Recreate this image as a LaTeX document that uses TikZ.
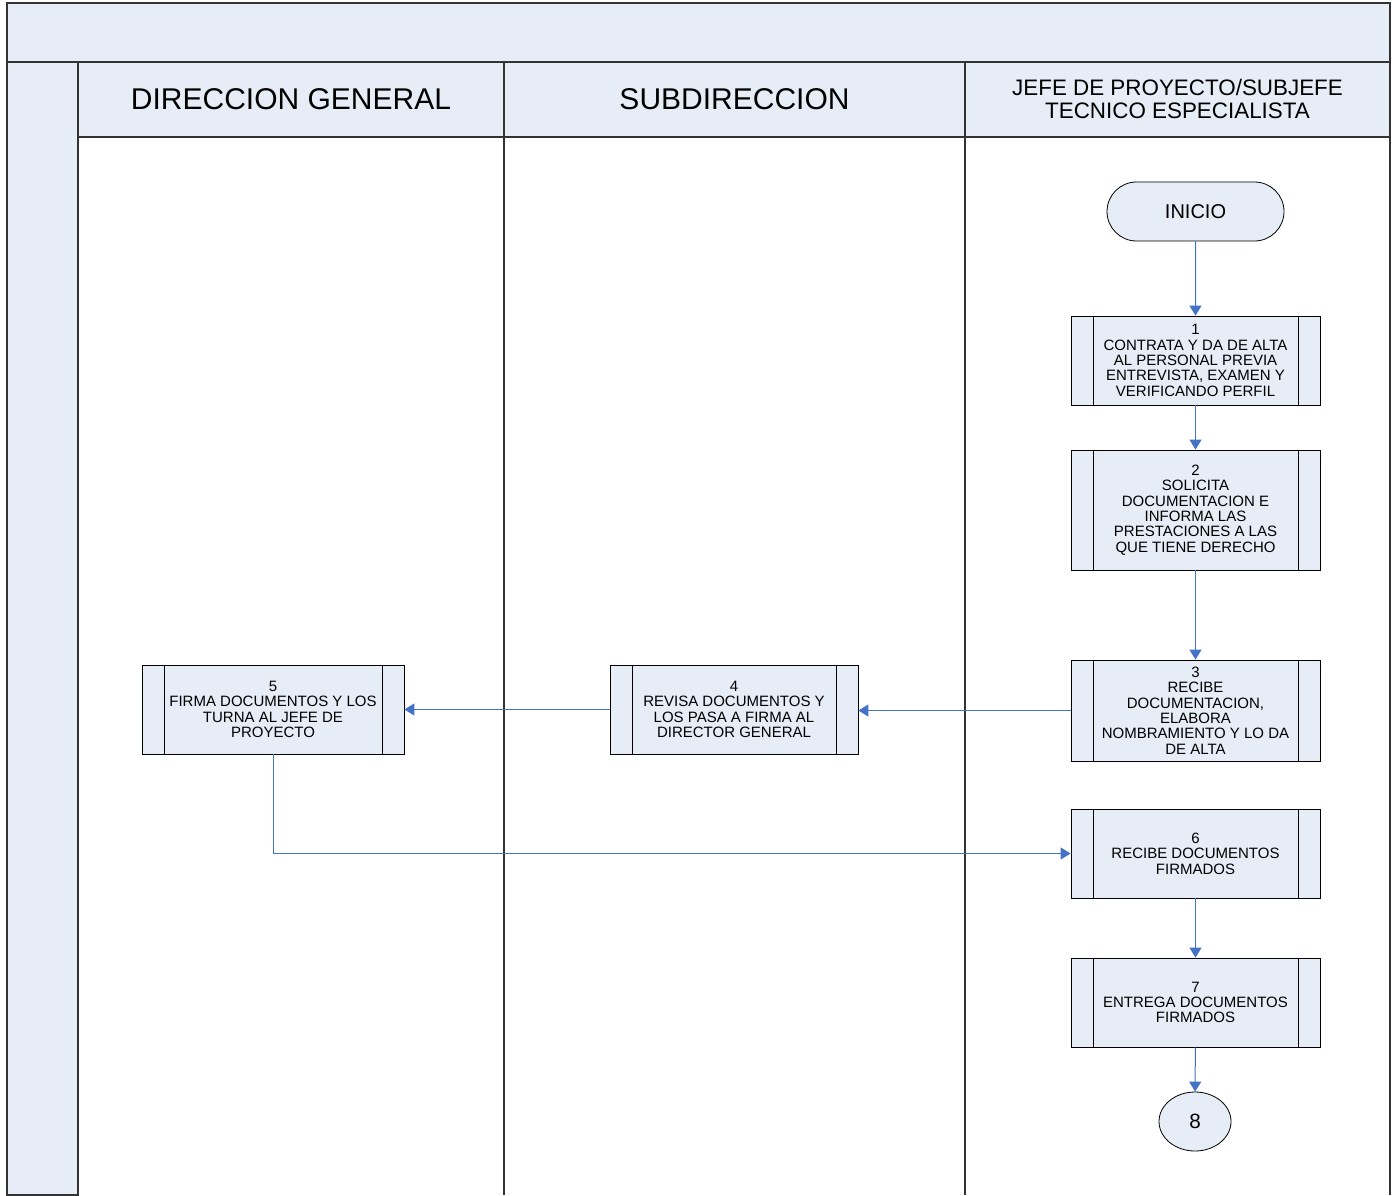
\documentclass[tikz,border=0pt]{standalone}
\usepackage{fontspec}
\setmainfont{Liberation Sans}
\usetikzlibrary{arrows.meta,shapes.misc,shapes.geometric}
\definecolor{lanefill}{RGB}{230,237,247}
\definecolor{laneline}{RGB}{51,51,51}
\definecolor{flowblue}{RGB}{68,114,196}
\tikzset{
  lanebox/.style={draw=laneline,line width=1.5pt,fill=lanefill},
  laneedge/.style={draw=laneline,line width=1.5pt},
  lanetitle/.style={font=\fontsize{22.5}{24}\selectfont,align=center,inner sep=0pt},
  procbox/.style={draw=black,line width=0.6pt,fill=lanefill,rectangle,inner sep=0pt,
    minimum width=186.75pt,minimum height=66.75pt,align=center,
    font=\fontsize{11.25}{11.5}\selectfont,
    path picture={
      \draw[line width=0.6pt] ([xshift=16.5pt]path picture bounding box.north west) -- ([xshift=16.5pt]path picture bounding box.south west);
      \draw[line width=0.6pt] ([xshift=-16.5pt]path picture bounding box.north east) -- ([xshift=-16.5pt]path picture bounding box.south east);
    }},
  terminal/.style={draw=black,line width=0.6pt,fill=lanefill,rounded rectangle,inner sep=0pt,
    minimum width=132.75pt,minimum height=44.25pt,font=\fontsize{15}{17}\selectfont},
  connector/.style={draw=black,line width=0.6pt,fill=lanefill,ellipse,inner sep=0pt,
    minimum width=54pt,minimum height=44.25pt,font=\fontsize{15.5}{17}\selectfont},
  flow/.style={draw=flowblue,line width=0.75pt,-{Triangle[length=7.5pt,width=9pt]}}
}
\begin{document}
\begin{tikzpicture}[x=0.75pt,y=-0.75pt]
\useasboundingbox (0,0) rectangle (1394,1195);
% title band and left margin column
\path[lanebox] (7,3) rectangle (1390,62);
\path[lanebox] (7,62) rectangle (78,1195);
% lane headers
\path[lanebox] (78,62) rectangle (504,137);
\path[lanebox] (504,62) rectangle (965,137);
\path[lanebox] (965,62) rectangle (1390,137);
% lane dividers
\draw[laneedge] (78,137) -- (78,1195);
\draw[laneedge] (504,137) -- (504,1195);
\draw[laneedge] (965,137) -- (965,1195);
\draw[laneedge] (1390,137) -- (1390,1195);
\node[lanetitle] (h1) at (291,99) {DIRECCION GENERAL};
\node[lanetitle] (h2) at (734.5,99) {SUBDIRECCION};
\node[lanetitle,font=\fontsize{16.8}{17.25}\selectfont] (h3) at (1177.5,99) {JEFE DE PROYECTO/SUBJEFE\\TECNICO ESPECIALISTA};
% flow nodes
\node[terminal] (ini) at (1195.5,211.5) {INICIO};
\node[procbox] (p1) at (1195.5,360.5) {1\\CONTRATA Y DA DE ALTA\\AL PERSONAL PREVIA\\ENTREVISTA, EXAMEN Y\\VERIFICANDO PERFIL};
\node[procbox,minimum height=90pt] (p2) at (1195.5,510) {2\\SOLICITA\\DOCUMENTACION E\\INFORMA LAS\\PRESTACIONES A LAS\\QUE TIENE DERECHO};
\node[procbox,minimum height=75.75pt] (p3) at (1195.5,710.5) {3\\RECIBE\\DOCUMENTACION,\\ELABORA\\NOMBRAMIENTO Y LO DA\\DE ALTA};
\node[procbox,minimum width=186pt] (p4) at (734,709.5) {4\\REVISA DOCUMENTOS Y\\LOS PASA A FIRMA AL\\DIRECTOR GENERAL};
\node[procbox,minimum width=196.5pt] (p5) at (273,709.5) {5\\FIRMA DOCUMENTOS Y LOS\\TURNA AL JEFE DE\\PROYECTO};
\node[procbox] (p6) at (1195.5,853.5) {6\\RECIBE DOCUMENTOS\\FIRMADOS};
\node[procbox] (p7) at (1195.5,1002.5) {7\\ENTREGA DOCUMENTOS\\FIRMADOS};
\node[connector] (fin) at (1195,1121.5) {8};
% connectors
\draw[flow] (ini) -- (p1);
\draw[flow] (p1) -- (p2);
\draw[flow] (p2) -- (p3);
\draw[flow] (p3.west) -- (p3.west -| p4.east);
\draw[flow] (p4.west) -- (p4.west -| p5.east);
\draw[flow] (p5.south) |- (p6.west);
\draw[flow] (p6) -- (p7);
\draw[flow] (p7) -- (fin);
\end{tikzpicture}
\end{document}
